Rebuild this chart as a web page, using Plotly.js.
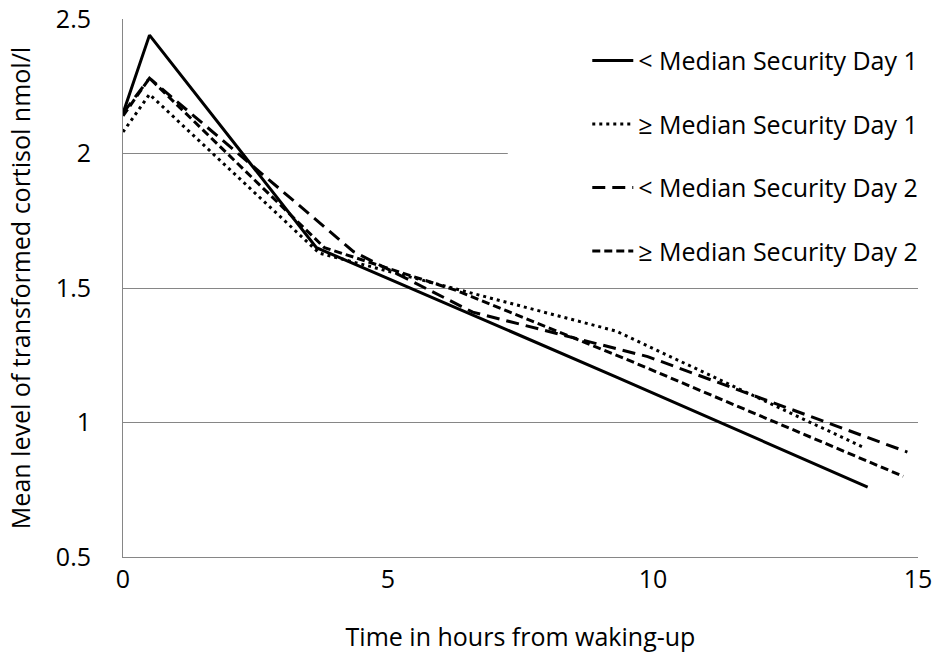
<!DOCTYPE html>
<html>
<head>
<meta charset="utf-8">
<script src="https://cdn.plot.ly/plotly-3.0.1.min.js"></script>
<style>html,body{margin:0;padding:0;background:#fff;}#chart{width:945px;height:658px;}</style>
</head>
<body>
<div id="chart"></div>
<script>
// Series names
const seriesNames = ["< Median Security Day 1", "≥ Median Security Day 1", "< Median Security Day 2", "≥ Median Security Day 2"];

// Hours from waking-up (per series) and mean transformed cortisol (nmol/l)
const hoursLowDay1  = [0, 0.5, 3.65, 9.3, 14.05];
const cortLowDay1   = [2.15, 2.44, 1.65, 1.17, 0.76];

const hoursHighDay1 = [0, 0.5, 3.7, 9.3, 14.0];
const cortHighDay1  = [2.08, 2.22, 1.63, 1.34, 0.905];

const hoursLowDay2  = [0, 0.5, 4.35, 6.6, 9.9, 14.8];
const cortLowDay2   = [2.15, 2.28, 1.635, 1.41, 1.245, 0.89];

const hoursHighDay2 = [0, 0.5, 3.8, 6.3, 9.5, 14.72];
const cortHighDay2  = [2.14, 2.28, 1.65, 1.49, 1.235, 0.80];

const xTicks = [0, 5, 10, 15];
const yTicks = [0.5, 1, 1.5, 2, 2.5];

const FONT = "'Open Sans', 'Noto Sans', sans-serif";
const FS = 25;

function mk(i, x, y, dash) {
  return {
    type: "scatter", mode: "lines", name: seriesNames[i], x: x, y: y,
    line: {color: "#000", width: 3, dash: dash},
    legendgroup: "g" + i, hoverinfo: "skip"
  };
}

const traces = [
  mk(0, hoursLowDay1, cortLowDay1, "solid"),
  mk(1, hoursHighDay1, cortHighDay1, "3px,4px"),
  mk(2, hoursLowDay2, cortLowDay2, "13px,7px"),
  mk(3, hoursHighDay2, cortHighDay2, "8px,4px")
];

const layout = {
  width: 945, height: 658,
  margin: {l: 123, r: 27, t: 19, b: 101, pad: 0},
  paper_bgcolor: "#fff", plot_bgcolor: "#fff",
  font: {family: FONT, size: FS, color: "#000"},
  showlegend: true,
  legend: {
    x: 0.584, xanchor: "left", y: 0.965, yanchor: "top",
    bgcolor: "#fff", borderwidth: 0,
    font: {family: FONT, size: FS, color: "#000"},
    itemwidth: 41, tracegroupgap: 28
  },
  xaxis: {
    range: [0, 15], tickvals: xTicks, ticktext: xTicks.map(String),
    showgrid: false, zeroline: false, showline: true, linecolor: "#868686", linewidth: 1,
    ticks: "", tickfont: {family: FONT, size: FS, color: "#000"},
    ticklabelstandoff: 0,
    title: {text: "Time in hours from waking-up", font: {family: FONT, size: FS, color: "#000"}, standoff: 34},
    fixedrange: true
  },
  yaxis: {
    range: [0.5, 2.5], tickvals: yTicks, ticktext: yTicks.map(String),
    showgrid: true, gridcolor: "#868686", gridwidth: 1,
    zeroline: false, showline: true, linecolor: "#868686", linewidth: 1,
    ticks: "", tickfont: {family: FONT, size: FS, color: "#000"},
    ticklabelstandoff: 26,
    title: {text: "Mean level of transformed cortisol nmol/l", font: {family: FONT, size: FS, color: "#000"}, standoff: 18},
    fixedrange: true
  },
  shapes: [{
    type: "rect", layer: "above", xref: "x", yref: "y",
    x0: 7.26, x1: 15.05, y0: 1.8, y1: 2.3,
    fillcolor: "#fff", line: {width: 0}
  }]
};

Plotly.newPlot("chart", traces, layout, {staticPlot: true, displayModeBar: false});
</script>
</body>
</html>
